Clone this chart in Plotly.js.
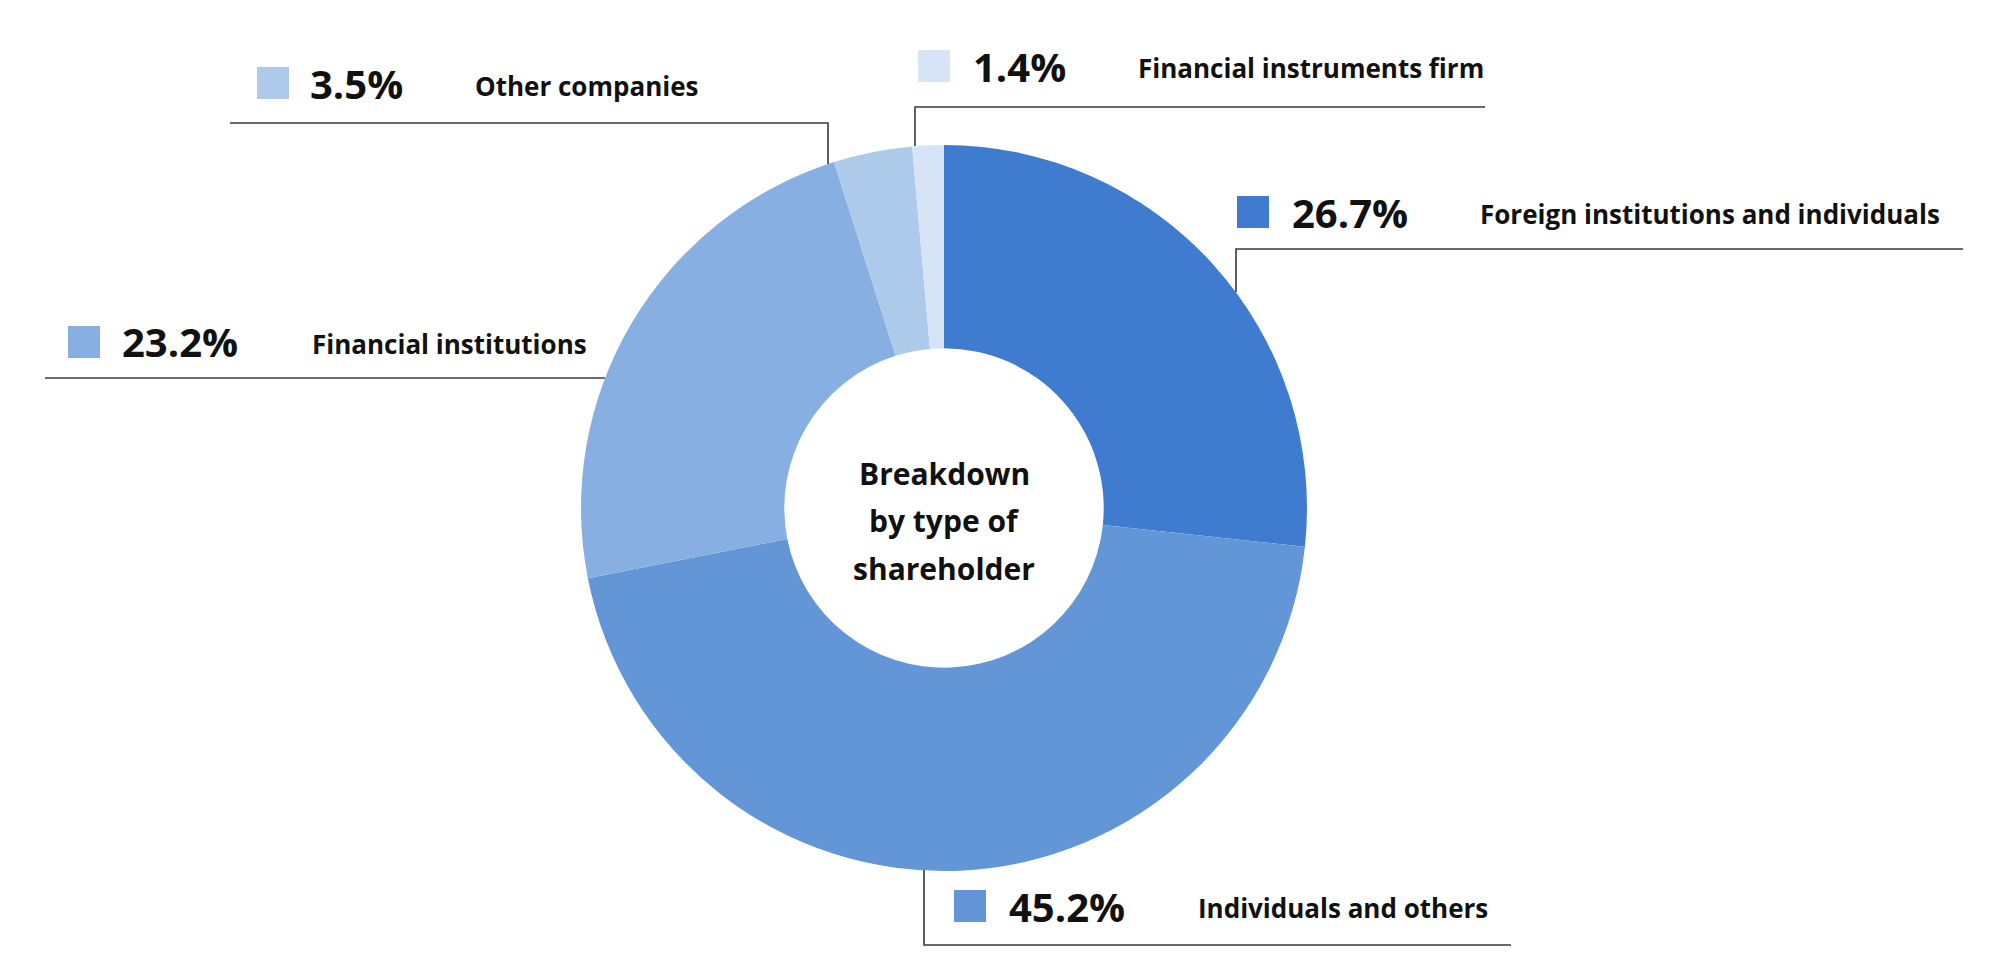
<!DOCTYPE html>
<html>
<head>
<meta charset="utf-8">
<script src="https://cdn.plot.ly/plotly-3.0.1.min.js"></script>
<style>html,body{margin:0;padding:0;background:#fff;}#chart{width:2016px;height:980px;}</style>
</head>
<body>
<div id="chart"></div>
<script>
// ---- data ----
const categories = ["Foreign institutions and individuals", "Individuals and others", "Financial institutions", "Other companies", "Financial instruments firm"];
const shares = [26.7, 45.2, 23.2, 3.5, 1.4];
const shareLabels = ["26.7%", "45.2%", "23.2%", "3.5%", "1.4%"];
const colors = ["#3F7BCE", "#6396D6", "#87AFE1", "#AECAEB", "#D6E4F6"];
const centerLines = ["Breakdown", "by type of", "shareholder"];

// ---- layout helpers (pixel -> paper) ----
const W = 2016, H = 980;
const px = x => x / W;
const py = y => 1 - y / H;

// label block positions
const blocks = [
  {sq: [1237, 212], pct: 1290, txt: 1478, ty: 214},
  {sq: [954, 906], pct: 1007, txt: 1196, ty: 908},
  {sq: [68, 342], pct: 120, txt: 310, ty: 344},
  {sq: [257, 83], pct: 308, txt: 473, ty: 86},
  {sq: [918, 66], pct: 971, txt: 1136, ty: 68}
];
// leader lines (pixel polylines)
const leaders = [
  [[1236, 292], [1236, 249], [1963, 249]],
  [[924, 870], [924, 945], [1511, 945]],
  [[605, 378], [45, 378]],
  [[828, 164], [828, 123], [230, 123]],
  [[915, 146], [915, 107], [1485, 107]]
];

const shapes = [];
const annotations = [];
const SQ = 32;
const FONT = 'Open Sans, Noto Sans, sans-serif';
blocks.forEach((b, i) => {
  shapes.push({type: 'rect', xref: 'paper', yref: 'paper',
    x0: px(b.sq[0]), x1: px(b.sq[0] + SQ), y0: py(b.sq[1] + SQ / 2), y1: py(b.sq[1] - SQ / 2),
    fillcolor: colors[i], line: {width: 0}});
  annotations.push({xref: 'paper', yref: 'paper', x: px(b.pct), y: py(b.sq[1]),
    xanchor: 'left', yanchor: 'middle', showarrow: false, text: '<b>' + shareLabels[i] + '</b>',
    font: {family: FONT, size: 40, color: '#111'}});
  annotations.push({xref: 'paper', yref: 'paper', x: px(b.txt), y: py(b.ty),
    xanchor: 'left', yanchor: 'middle', showarrow: false, text: '<b>' + categories[i] + '</b>',
    font: {family: FONT, size: 26, color: '#111'}});
});
leaders.forEach(pts => {
  let path = pts.map((p, j) => (j ? 'L' : 'M') + px(p[0]) + ',' + py(p[1])).join(' ');
  shapes.push({type: 'path', xref: 'paper', yref: 'paper', path: path,
    line: {color: '#3a3a3a', width: 1.6}});
});
centerLines.forEach((t, j) => {
  annotations.push({xref: 'paper', yref: 'paper', x: px(944), y: py(473 + j * 47.5),
    xanchor: 'center', yanchor: 'middle', showarrow: false, text: '<b>' + t + '</b>',
    font: {family: FONT, size: 30, color: '#111'}});
});

const trace = {
  type: 'pie',
  labels: categories,
  values: shares,
  sort: false,
  direction: 'clockwise',
  rotation: 0,
  hole: 0.44,
  textinfo: 'none',
  marker: {colors: colors, line: {width: 0}},
  domain: {x: [581 / W, 1307 / W], y: [1 - 871 / H, 1 - 145 / H]},
  showlegend: false
};

Plotly.newPlot('chart', [trace], {
  width: W, height: H,
  margin: {l: 0, r: 0, t: 0, b: 0},
  paper_bgcolor: '#fff',
  showlegend: false,
  shapes: shapes,
  annotations: annotations
}, {displayModeBar: false, staticPlot: true});
</script>
</body>
</html>
